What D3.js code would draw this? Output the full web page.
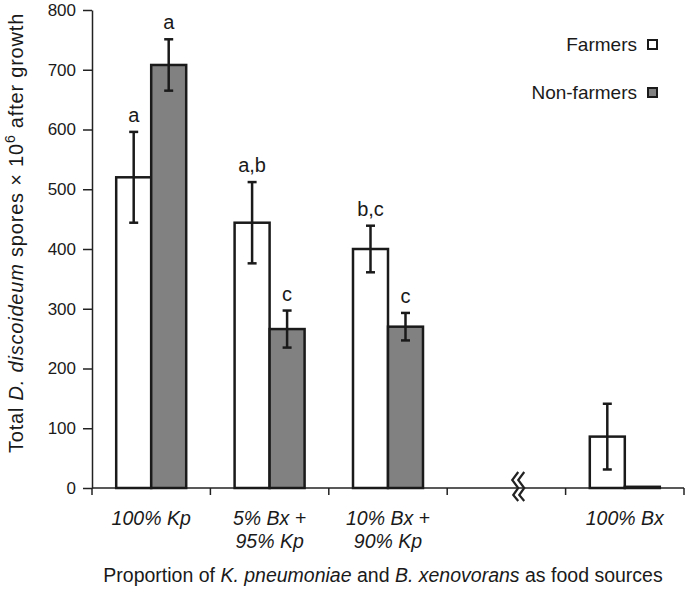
<!DOCTYPE html>
<html><head><meta charset="utf-8">
<script src="https://cdn.jsdelivr.net/npm/d3@7/dist/d3.min.js"></script>
<style>body{margin:0;background:#fff}svg{display:block}text{font-family:"Liberation Sans",Arial,sans-serif;fill:#1a1a1a}</style>
</head><body><svg id="c" width="685" height="590"></svg>
<script>
const categories = ["100% Kp", "5% Bx +\n95% Kp", "10% Bx +\n90% Kp", "", "100% Bx"];
const series = ["Farmers", "Non-farmers"];
const farmers = [520, 444, 400, null, 86];
const farmersErr = [76, 68, 39, null, 55];
const nonFarmers = [708, 266, 270, null, 2];
const nonFarmersErr = [43, 31, 23, null, 0];
const farmersLetters = ["a", "a,b", "b,c", null, null];
const nonFarmersLetters = ["a", "c", "c", null, null];
const yTicks = [0, 100, 200, 300, 400, 500, 600, 700, 800];

const svg = d3.select("#c");
const y = d3.scaleLinear().domain([0, 800]).range([488, 10]);
const x = d3.scaleBand().domain(d3.range(categories.length)).range([92, 684]).paddingInner(0).paddingOuter(0);
const sub = d3.scaleBand().domain(series).range([0, 70]);
const off = (x.bandwidth() - 70) / 2;
const fills = {"Farmers": "#ffffff", "Non-farmers": "#818181"};

// axes
const yAxis = svg.append("g").attr("transform", "translate(92,0)")
  .call(d3.axisLeft(y).tickValues(yTicks).tickSize(9).tickPadding(7).tickSizeOuter(0));
yAxis.select(".domain").attr("stroke", "#222").attr("stroke-width", 1.5);
yAxis.selectAll(".tick line").attr("stroke", "#222").attr("stroke-width", 1.5);
yAxis.selectAll(".tick text").style("font-size", "17px").attr("fill", "#1a1a1a");

const xAxis = svg.append("g").attr("transform", "translate(0,488)");
xAxis.append("line").attr("x1", 92).attr("x2", 684).attr("stroke", "#222").attr("stroke-width", 1.5);
const bounds = d3.range(categories.length + 1).map(i => i < categories.length ? x(i) : x(categories.length - 1) + x.bandwidth());
xAxis.selectAll(".xt").data(bounds).join("line").attr("class", "xt")
  .attr("x1", d => d).attr("x2", d => d).attr("y1", 0).attr("y2", 7)
  .attr("stroke", "#222").attr("stroke-width", 1.5);

// x tick labels
categories.forEach((c, i) => {
  if (!c) return;
  const lines = c.split("\n");
  const t = svg.append("text").attr("x", x(i) + x.bandwidth() / 2).attr("y", 525)
    .attr("text-anchor", "middle").style("font-size", "19.5px").style("font-style", "italic");
  lines.forEach((l, j) => t.append("tspan").attr("x", x(i) + x.bandwidth() / 2).attr("dy", j ? 23 : 0).text(l));
});

// break symbol
const bx = x(3) + x.bandwidth() * 0.6;
const zig = [[4, -16], [-2, -8], [4, 0], [-1, 7], [4, 13]];
[0, 6].forEach(dx => {
  svg.append("path").attr("d", d3.line()(zig.map(p => [bx + p[0] + dx - 4, 488 + p[1]])))
    .attr("fill", "none").attr("stroke", "#222").attr("stroke-width", 2.2);
});

// bars
const data = [];
categories.forEach((c, i) => {
  if (farmers[i] != null) data.push({i, s: "Farmers", v: farmers[i], e: farmersErr[i], l: farmersLetters[i]});
  if (nonFarmers[i] != null) data.push({i, s: "Non-farmers", v: nonFarmers[i], e: nonFarmersErr[i], l: nonFarmersLetters[i]});
});
const bw = sub.bandwidth();
svg.selectAll(".bar").data(data).join("rect").attr("class", "bar")
  .attr("x", d => x(d.i) + off + sub(d.s))
  .attr("y", d => y(d.v))
  .attr("width", bw)
  .attr("height", d => y(0) - y(d.v))
  .attr("fill", d => fills[d.s]).attr("stroke", "#1a1a1a").attr("stroke-width", 2.5);

const eb = data.filter(d => d.e > 0);
const cx = d => x(d.i) + off + sub(d.s) + bw / 2;
svg.selectAll(".err").data(eb).join("line").attr("class", "err")
  .attr("x1", cx).attr("x2", cx).attr("y1", d => y(d.v + d.e)).attr("y2", d => y(d.v - d.e))
  .attr("stroke", "#1a1a1a").attr("stroke-width", 2.5);
svg.selectAll(".capT").data(eb).join("line").attr("class", "capT")
  .attr("x1", d => cx(d) - 4.5).attr("x2", d => cx(d) + 4.5).attr("y1", d => y(d.v + d.e)).attr("y2", d => y(d.v + d.e))
  .attr("stroke", "#1a1a1a").attr("stroke-width", 2.5);
svg.selectAll(".capB").data(eb).join("line").attr("class", "capB")
  .attr("x1", d => cx(d) - 4.5).attr("x2", d => cx(d) + 4.5).attr("y1", d => y(d.v - d.e)).attr("y2", d => y(d.v - d.e))
  .attr("stroke", "#1a1a1a").attr("stroke-width", 2.5);
svg.selectAll(".let").data(data.filter(d => d.l)).join("text").attr("class", "let")
  .attr("x", cx).attr("y", d => y(d.v + d.e) - 10).attr("text-anchor", "middle")
  .style("font-size", "20px").text(d => d.l);

// legend
series.forEach((s, k) => {
  const ly = 51 + k * 48;
  svg.append("text").attr("x", 637).attr("y", ly).attr("text-anchor", "end").style("font-size", "19px").text(s);
  svg.append("rect").attr("x", 648).attr("y", ly - 11).attr("width", 9).attr("height", 9)
    .attr("fill", fills[s]).attr("stroke", "#1a1a1a").attr("stroke-width", 2);
});

// axis titles
const yt = svg.append("text").attr("transform", "translate(23,233) rotate(-90)").attr("text-anchor", "middle")
  .style("font-size", "20px").style("letter-spacing", "0.8px");
yt.append("tspan").text("Total ");
yt.append("tspan").style("font-style", "italic").text("D. discoideum");
yt.append("tspan").text(" spores \u00d7 10");
yt.append("tspan").attr("dy", -8).style("font-size", "14px").text("6");
yt.append("tspan").attr("dy", 8).text(" after growth");

const xt = svg.append("text").attr("x", 383).attr("y", 582).attr("text-anchor", "middle").style("font-size", "19.5px");
xt.append("tspan").text("Proportion of ");
xt.append("tspan").style("font-style", "italic").text("K. pneumoniae");
xt.append("tspan").text(" and ");
xt.append("tspan").style("font-style", "italic").text("B. xenovorans");
xt.append("tspan").text(" as food sources");
</script></body></html>
